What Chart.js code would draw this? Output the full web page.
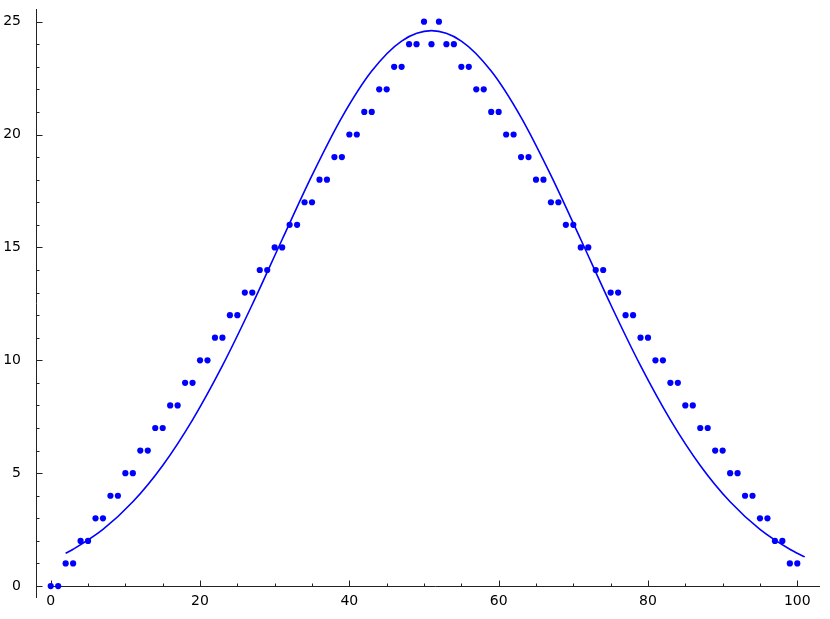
<!DOCTYPE html>
<html>
<head>
<meta charset="utf-8">
<script src="https://cdn.jsdelivr.net/npm/chart.js@4/dist/chart.umd.min.js"></script>
<style>
html, body { margin: 0; padding: 0; background: #fff; }
</style>
</head>
<body>
<canvas id="c" width="830" height="619"></canvas>
<script>
// dots, one for each x from 0 to 100
var dotX = [0,1,2,3,4,5,6,7,8,9,10,11,12,13,14,15,16,17,18,19,20,21,22,23,24,25,26,27,28,29,
  30,31,32,33,34,35,36,37,38,39,40,41,42,43,44,45,46,47,48,49,50,51,52,53,54,55,56,57,58,59,
  60,61,62,63,64,65,66,67,68,69,70,71,72,73,74,75,76,77,78,79,80,81,82,83,84,85,86,87,88,89,
  90,91,92,93,94,95,96,97,98,99,100];
var dotY = [0,0,1,1,2,2,3,3,4,4,5,5,6,6,7,7,8,8,9,9,10,10,11,11,12,12,13,13,14,14,
  15,15,16,16,17,17,18,18,19,19,20,20,21,21,22,22,23,23,24,24,25,24,25,24,24,23,23,22,22,21,
  21,20,20,19,19,18,18,17,17,16,16,15,15,14,14,13,13,12,12,11,11,10,10,9,9,8,8,7,7,6,
  6,5,5,4,4,3,3,2,2,1,1];

// the smooth curve
var curveX = [2,3,7,11,15,19,23,27,31,35,39,43,47,51,55,59,63,67,71,75,79,83,87,91,95,99,101];
var curveY = [1.45,1.63,2.51,3.73,5.34,7.36,9.76,12.47,15.35,18.19,20.76,22.81,24.14,24.60,
  24.14,22.81,20.76,18.19,15.35,12.47,9.76,7.36,5.34,3.73,2.51,1.63,1.29];

var xTickLabels = [0,20,40,60,80,100];
var yTickLabels = [0,5,10,15,20,25];
var xMinorTicks = [5,10,15,25,30,35,45,50,55,65,70,75,85,90,95];

var blue = '#0000ff';
var font = { family: 'DejaVu Sans', size: 14 };

function pts(xs, ys) {
  var out = [];
  for (var i = 0; i < xs.length; i++) out.push({ x: xs[i], y: ys[i] });
  return out;
}

// sage style axes: x axis at y=0, ticks pointing inward
var axesPlugin = {
  id: 'sageAxes',
  beforeDatasetsDraw: function (chart) {
    var ctx = chart.ctx, xs = chart.scales.x, ys = chart.scales.y, area = chart.chartArea;
    var y0 = Math.round(ys.getPixelForValue(0)) + 0.5;
    var xl = Math.round(area.left) + 0.5;
    ctx.save();
    ctx.strokeStyle = '#222';
    ctx.lineWidth = 1;
    ctx.beginPath();
    ctx.moveTo(xs.getPixelForValue(0), y0);
    ctx.lineTo(area.right, y0);
    ctx.moveTo(xl, area.top);
    ctx.lineTo(xl, area.bottom);
    ctx.stroke();

    ctx.beginPath();
    xTickLabels.forEach(function (v) {
      var p = Math.round(xs.getPixelForValue(v)) + 0.5;
      ctx.moveTo(p, y0); ctx.lineTo(p, y0 - 6);
    });
    xMinorTicks.forEach(function (v) {
      var p = Math.round(xs.getPixelForValue(v)) + 0.5;
      ctx.moveTo(p, y0); ctx.lineTo(p, y0 - 3);
    });
    for (var v = 0; v <= 25; v++) {
      var p = Math.round(ys.getPixelForValue(v)) + 0.5;
      ctx.moveTo(xl, p); ctx.lineTo(xl + (v % 5 === 0 ? 6 : 3), p);
    }
    ctx.stroke();
    ctx.restore();
  }
};

new Chart(document.getElementById('c'), {
  type: 'scatter',
  data: {
    datasets: [
      {
        label: 'curve',
        data: pts(curveX, curveY),
        showLine: true,
        borderColor: blue,
        borderWidth: 1.6,
        pointRadius: 0,
        cubicInterpolationMode: 'monotone',
        fill: false
      },
      {
        label: 'dots',
        data: pts(dotX, dotY),
        backgroundColor: blue,
        borderWidth: 0,
        pointRadius: 3.1
      }
    ]
  },
  options: {
    responsive: false,
    animation: false,
    devicePixelRatio: 1,
    layout: { padding: { left: 0, right: 10, top: 9, bottom: 21 } },
    plugins: { legend: { display: false }, tooltip: { enabled: false } },
    scales: {
      x: {
        type: 'linear',
        min: -1.97,
        max: 103.04,
        position: { y: 0 },
        grid: { display: false },
        border: { display: false },
        ticks: { color: '#000', font: font, padding: -1, maxRotation: 0 },
        afterBuildTicks: function (s) { s.ticks = xTickLabels.map(function (v) { return { value: v }; }); },
        afterFit: function (s) { s.paddingLeft = 0; s.paddingRight = 0; }
      },
      y: {
        type: 'linear',
        min: -0.53,
        max: 25.56,
        position: 'left',
        grid: { display: false },
        border: { display: false },
        ticks: { color: '#000', font: font, padding: 7 },
        afterBuildTicks: function (s) { s.ticks = yTickLabels.map(function (v) { return { value: v }; }); },
        afterFit: function (s) { s.width = 36; s.paddingTop = 0; s.paddingBottom = 0; }
      }
    }
  },
  plugins: [axesPlugin]
});
</script>
</body>
</html>
